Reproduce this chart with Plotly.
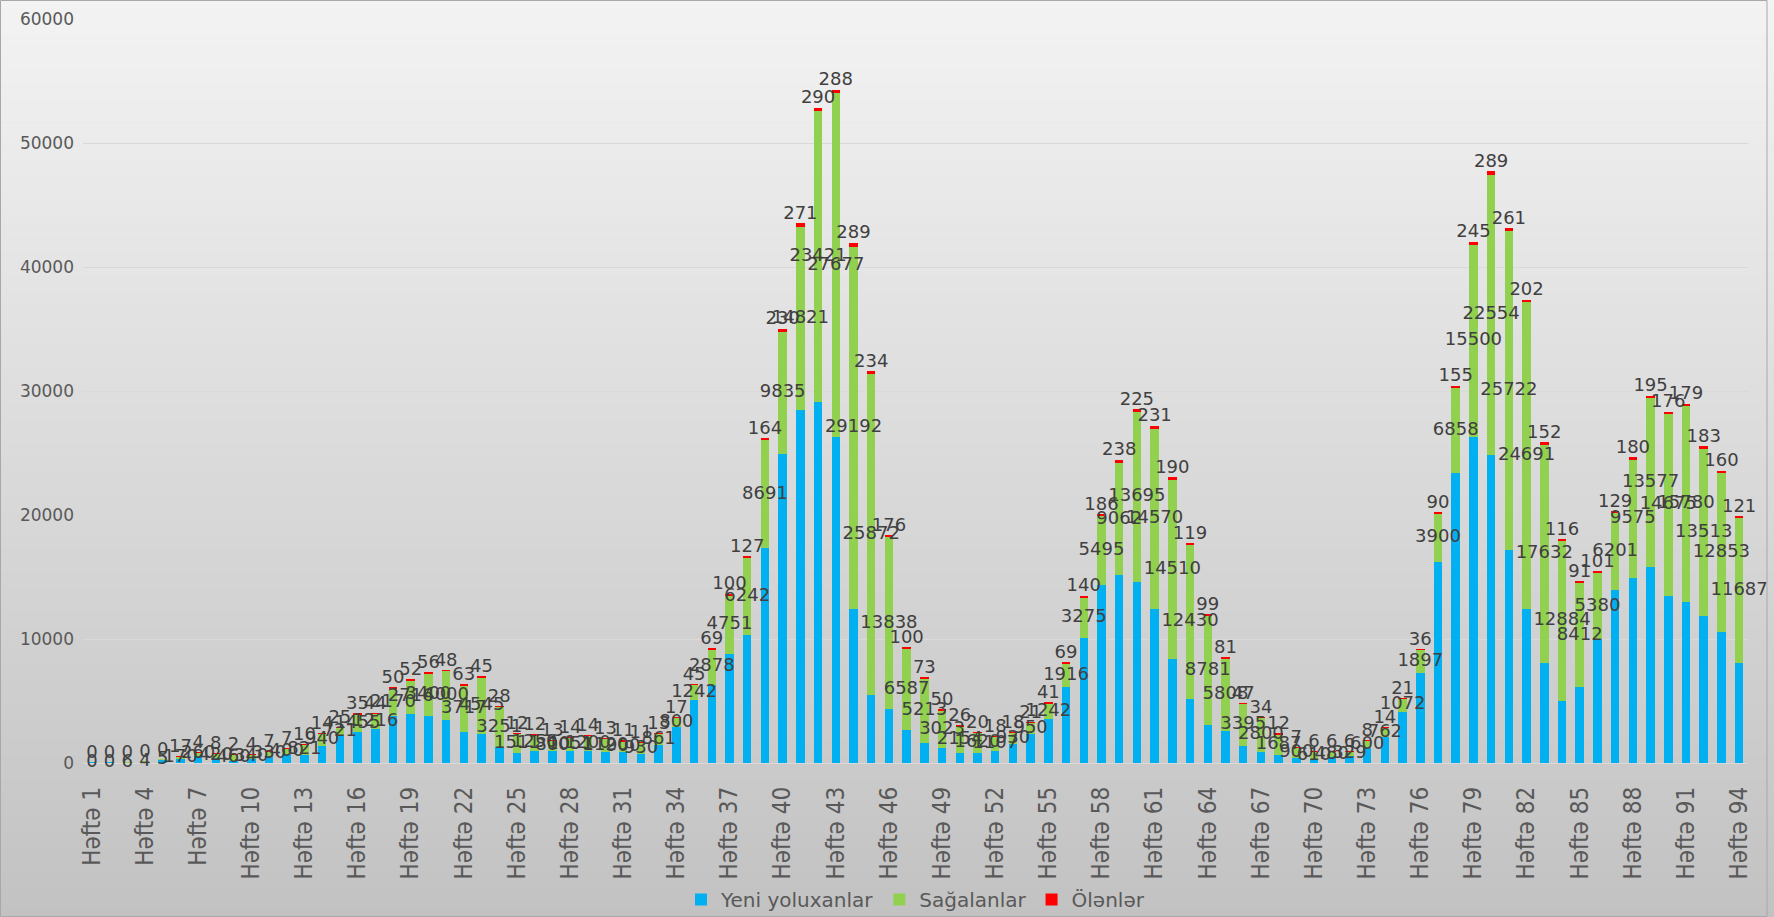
import plotly.graph_objects as go

weeks = [f"Həftə {i}" for i in range(1, 95)]

new_cases = [3, 8, 40, 80, 250, 330, 600, 378, 200, 330,
             600, 730, 660, 1400, 2150, 2480, 2750, 3830, 3970, 3830,
             3430, 2540, 2350, 1270, 830, 1000, 1000, 1000, 1000, 865,
             865, 730, 1480, 2890, 5050, 6313, 8780, 10316, 17325, 24950,
             28435, 29140, 26320, 12455, 5500, 4370, 2660, 1635, 1205, 817,
             817, 1000, 1500, 2300, 3567, 6135, 10075, 14390, 15140, 14610,
             12400, 8350, 5170, 3078, 2600, 1391, 864, 651, 378, 324,
             459, 594, 1188, 2113, 4145, 7232, 16220, 23397, 26300, 24876,
             17155, 12455, 8084, 5029, 6110, 9964, 13960, 14900, 15840, 13490,
             13020, 11844, 10575, 8084]

recovered = [0, 0, 6, 4, 5, 170, 260, 420, 460, 340,
             330, 400, 821, 940, 721, 1455, 1216, 2170, 2716, 3400,
             4000, 3717, 4545, 3251, 1511, 1250, 800, 1051, 1200, 1120,
             900, 930, 861, 800, 1242, 2878, 4751, 6242, 8691, 9835,
             14821, 23421, 27677, 29192, 25872, 13838, 6587, 5213, 3023, 2154,
             1620, 1107, 930, 950, 1242, 1916, 3275, 5495, 9062, 13695,
             14570, 14510, 12430, 8781, 5808, 3395, 2800, 1687, 900, 610,
             480, 329, 600, 762, 1072, 1897, 3900, 6858, 15500, 22554,
             25722, 24691, 17632, 12884, 8412, 5380, 6201, 9575, 13577, 14675,
             15780, 13513, 12853, 11687]

deaths = [0, 0, 0, 0, 0, 17, 4, 8, 2, 4,
          7, 7, 10, 14, 25, 35, 44, 50, 52, 56,
          48, 63, 45, 28, 12, 12, 13, 14, 14, 13,
          11, 11, 13, 17, 45, 69, 100, 127, 164, 230,
          271, 290, 288, 289, 234, 176, 100, 73, 50, 26,
          20, 18, 18, 21, 41, 69, 140, 186, 238, 225,
          231, 190, 119, 99, 81, 47, 34, 12, 7, 6,
          6, 6, 8, 14, 21, 36, 90, 155, 245, 289,
          261, 202, 152, 116, 91, 101, 129, 180, 195, 176,
          179, 183, 160, 121]

series_names = ["Yeni yoluxanlar", "Sağalanlar", "Ölənlər"]
series_colors = ["#00B0F0", "#92D050", "#FF0000"]

green_mid = [b + g / 2 for b, g in zip(new_cases, recovered)]
totals = [b + g + d for b, g, d in zip(new_cases, recovered, deaths)]

W, H = 1774, 917
ML, MR, MT, MB = 83, 26, 19, 154
PW, PH = W - ML - MR, H - MT - MB


def px_x(p):
    return (p - ML) / PW


def px_y(p):
    return (H - MB - p) / PH


label_font = dict(family="DejaVu Sans, Verdana, sans-serif", size=18, color="#404040")

fig = go.Figure()
for vals, name, col in zip([new_cases, recovered, deaths], series_names, series_colors):
    fig.add_trace(go.Bar(x=weeks, y=vals, name=name, marker=dict(color=col, line=dict(width=0)),
                         hoverinfo="x+y+name"))

fig.add_trace(go.Scatter(x=weeks, y=green_mid, mode="text", text=[str(v) for v in recovered],
                         textposition="middle center", textfont=label_font,
                         showlegend=False, hoverinfo="skip", cliponaxis=False))
fig.add_trace(go.Scatter(x=weeks, y=totals, mode="text", text=[str(v) for v in deaths],
                         textposition="top center", textfont=label_font,
                         showlegend=False, hoverinfo="skip", cliponaxis=False))

# vertical background gradient of the chart area (light at top, grey at bottom)
top_rgb, bot_rgb = (243, 243, 243), (194, 194, 194)
n_bands = 120
shapes = []
for i in range(n_bands):
    p0 = H * i / n_bands
    p1 = H * (i + 1) / n_bands
    t = (i + 0.5) / n_bands
    c = tuple(round(top_rgb[k] + (bot_rgb[k] - top_rgb[k]) * t) for k in range(3))
    shapes.append(dict(type="rect", xref="paper", yref="paper", x0=px_x(0), x1=px_x(W),
                       y0=px_y(p1 + 0.6), y1=px_y(p0), line=dict(width=0),
                       fillcolor=f"rgb({c[0]},{c[1]},{c[2]})", layer="below"))
shapes.append(dict(type="rect", xref="paper", yref="paper", x0=px_x(0.5), x1=px_x(W - 7),
                   y0=px_y(H - 0.5), y1=px_y(0.5), line=dict(color="#a8a8a8", width=1),
                   fillcolor="rgba(0,0,0,0)", layer="below"))

fig.update_layout(
    width=W, height=H, autosize=False,
    margin=dict(l=ML, r=MR, t=MT, b=MB, pad=0, autoexpand=False),
    barmode="stack", bargap=0.52,
    paper_bgcolor="#c4c4c4", plot_bgcolor="rgba(0,0,0,0)",
    shapes=shapes,
    legend=dict(orientation="h", x=0.5, xanchor="center", y=px_y(880), yanchor="top",
                font=dict(family="DejaVu Sans, Verdana, sans-serif", size=20, color="#595959"),
                bgcolor="rgba(0,0,0,0)", traceorder="normal", itemwidth=30,
                tracegroupgap=0),
    showlegend=True,
    xaxis=dict(type="category", tickmode="array", tickvals=weeks[::3], tickangle=-90,
               tickfont=dict(family="Liberation Sans Narrow, Arial Narrow, DejaVu Sans Condensed, sans-serif",
                             size=24, color="#595959"),
               showgrid=False, showline=False, ticks="", ticklabelstandoff=18,
               range=[-0.5, 93.5], automargin=False),
    yaxis=dict(range=[0, 60000], dtick=10000, tickformat="d", gridcolor="#d9d9d9", gridwidth=1,
               zeroline=True, zerolinecolor="#d9d9d9", zerolinewidth=1, showline=False, ticks="",
               tickfont=dict(family="DejaVu Sans, Verdana, sans-serif", size=17, color="#595959"),
               ticklabelstandoff=8, automargin=False),
)

fig.write_html("out.html", config={"displayModeBar": False},
               post_script="document.body.style.margin='0';document.body.style.overflow='hidden';")
